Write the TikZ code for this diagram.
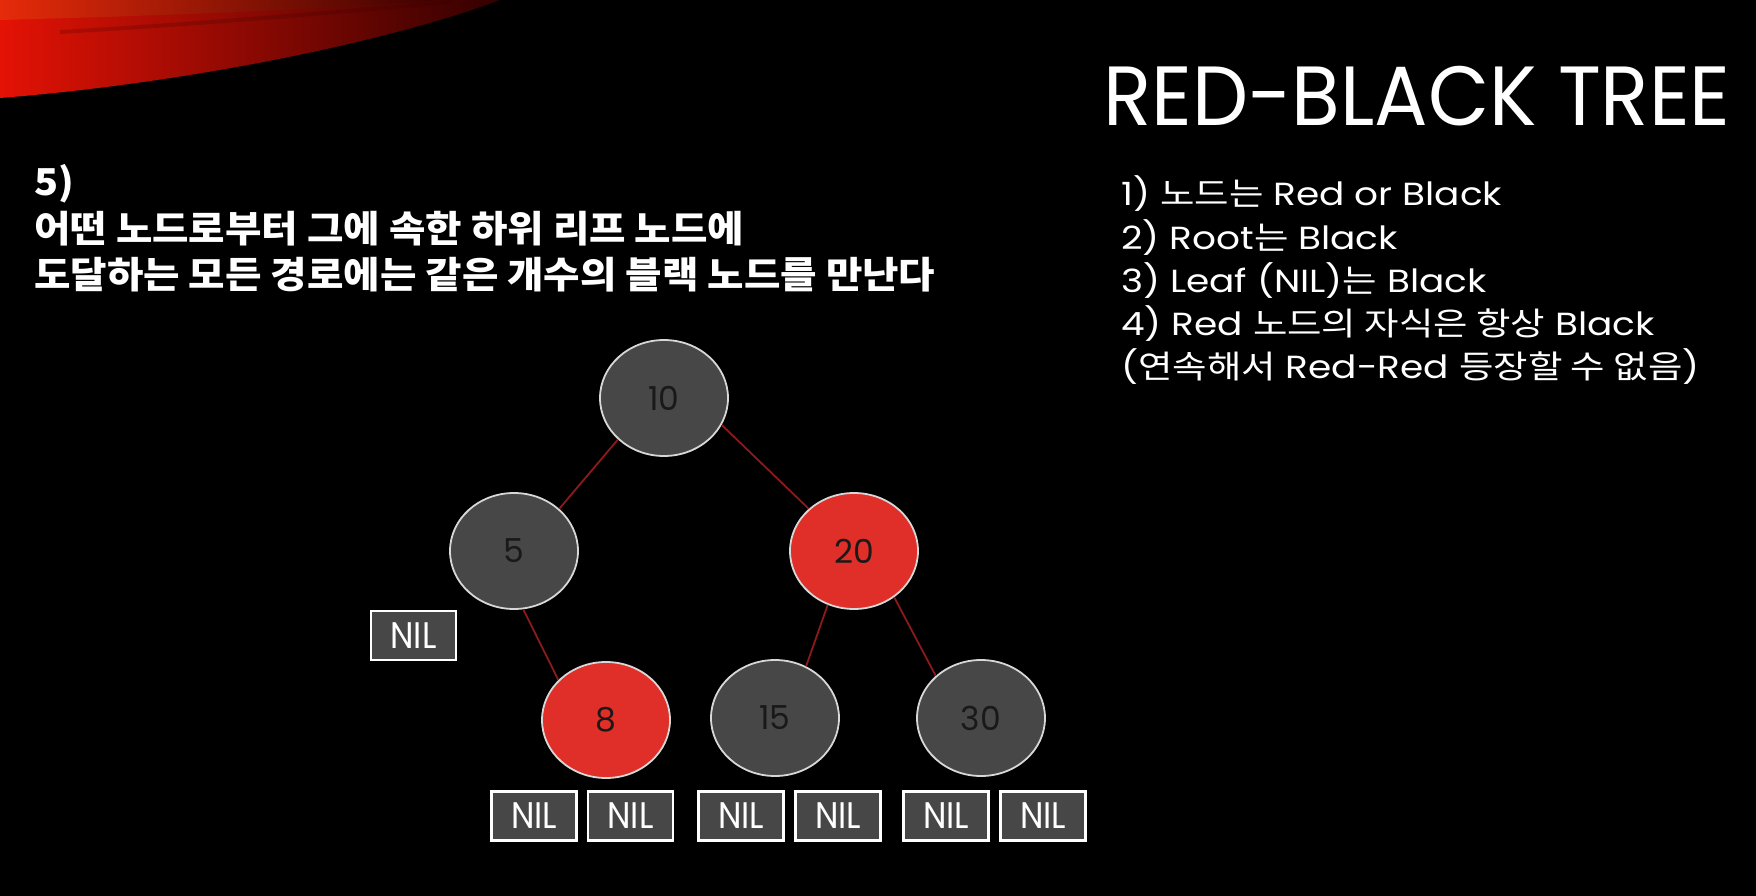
\documentclass[tikz,border=0pt]{standalone}
\usepackage{fontspec}
\usepackage{graphicx}
\setmainfont{Poppins}
\newfontfamily\kr{Noto Sans CJK KR}
\usetikzlibrary{shapes.geometric}
\definecolor{nodegray}{RGB}{71,71,71}
\definecolor{nodered}{RGB}{224,46,40}
\definecolor{edgered}{RGB}{140,26,26}
\definecolor{rimgray}{RGB}{215,215,215}
\definecolor{numcol}{RGB}{25,25,25}
\definecolor{swred}{RGB}{228,18,5}
\definecolor{swmid}{RGB}{180,6,0}
\definecolor{swdark}{RGB}{50,0,0}
\definecolor{sworange}{RGB}{232,60,14}
\newcommand{\wide}[1]{\scalebox{1.17}[1]{#1}}
\newcommand{\nil}{\scalebox{0.9}[1]{NIL}}
\begin{document}
\begin{tikzpicture}[x=1pt,y=-1pt,
  rbnode/.style={ellipse, draw=rimgray, line width=1.8pt, minimum width=128pt, minimum height=116pt, inner sep=0pt, font=\fontsize{33}{33}\selectfont, text=numcol},
  blacknode/.style={rbnode, fill=nodegray},
  rednode/.style={rbnode, fill=nodered},
  nilbox/.style={rectangle, draw=white, line width=2.2pt, fill=nodegray, minimum width=85pt, minimum height=49pt, inner sep=0pt, text=white, font=\fontsize{37}{37}\selectfont},
  edge/.style={draw=edgered, line width=1.8pt},
  listline/.style={anchor=base west, text=white, inner sep=0pt, font=\fontsize{32}{32}\selectfont},
  ruleline/.style={anchor=base west, text=white, inner sep=0pt, font=\kr\bfseries\fontsize{37}{37}\selectfont}]
\useasboundingbox (0,0) rectangle (1756,896);
\fill[black] (0,0) rectangle (1756,896);
% red swoosh
\shade[left color=swred, middle color=swmid, right color=swdark] (0,0) -- (500,0) .. controls (400,38) and (200,82) .. (0,98) -- cycle;
\shade[left color=sworange, right color=swdark, fill opacity=0.6] (0,0) -- (440,0) .. controls (320,10) and (150,16) .. (0,20) -- cycle;
\draw[swdark, line width=4pt, opacity=0.2] (60,32) .. controls (200,24) and (340,12) .. (450,2);
% title and rules
\node[anchor=base west, text=white, inner sep=0pt, font=\fontsize{84}{84}\selectfont] (title) at (1103,126) {\scalebox{0.944}[1]{RED-BLACK TREE}};
\node[listline] (r1) at (1121,206) {\wide{1) {\kr 노드는} Red or Black}};
\node[listline] (r2) at (1121,249) {\wide{2) Root{\kr 는} Black}};
\node[listline] (r3) at (1121,292) {\wide{3) Leaf (NIL){\kr 는} Black}};
\node[listline] (r4) at (1121,335) {\wide{4) Red {\kr 노드의 자식은 항상} Black}};
\node[listline] (r5) at (1121,378) {\wide{({\kr 연속해서} Red-Red {\kr 등장할 수 없음})}};
\node[ruleline] (h0) at (34,196) {\scalebox{1.07}[1]{5)}};
\node[ruleline] (h1) at (34,242) {\scalebox{1.07}[1]{어떤 노드로부터 그에 속한 하위 리프 노드에}};
\node[ruleline] (h2) at (34,288) {\scalebox{1.07}[1]{도달하는 모든 경로에는 같은 개수의 블랙 노드를 만난다}};
% tree
\node[blacknode] (n10) at (664,398) {10};
\node[blacknode] (n5) at (514,551) {5};
\node[rednode] (n20) at (854,551) {20};
\node[rednode] (n8) at (606,720) {8};
\node[blacknode] (n15) at (775,718) {15};
\node[blacknode] (n30) at (981,718) {30};
\draw[edge] (n10.222) -- (n5.43);
\draw[edge] (n10.-25) -- (n20.137);
\draw[edge] (n5.-81) -- (n8.140);
\draw[edge] (n20.-116) -- (n15.59);
\draw[edge] (n20.-49) -- (n30.137);
% NIL leaves
\node[nilbox] (nil5) at (413.5,635.5) {\nil};
\node[nilbox] (nil8a) at (534,816) {\nil};
\node[nilbox] (nil8b) at (630.5,816) {\nil};
\node[nilbox] (nil15a) at (741,816) {\nil};
\node[nilbox] (nil15b) at (838,816) {\nil};
\node[nilbox] (nil30a) at (946,816) {\nil};
\node[nilbox] (nil30b) at (1043,816) {\nil};
\end{tikzpicture}
\end{document}
